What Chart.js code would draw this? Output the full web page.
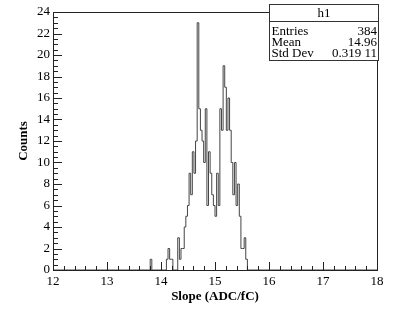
<!DOCTYPE html>
<html>
<head>
<meta charset="utf-8">
<script src="https://cdn.jsdelivr.net/npm/chart.js@4.4.1/dist/chart.umd.min.js"></script>
<style>
html,body{margin:0;padding:0;background:#fff;}
canvas{display:block;}
</style>
</head>
<body>
<canvas id="c" width="405" height="316"></canvas>
<script>
// ---- data ----
const histName = "h1";
const xTitle = "Slope (ADC/fC)";
const yTitle = "Counts";
const axisMin = 12, axisMax = 18;
const binWidth = 0.03;
const firstBinLow = 13.80;
const counts = [
  1, 0, 0, 0, 0, 0, 0, 0, 0, 0,
  1, 2, 1, 1, 0, 0, 0, 3, 1, 2,
  2, 4, 5, 6, 9, 7, 11, 9, 12, 23,
  15, 13, 12, 10, 15, 6, 11, 9, 7, 6,
  5, 9, 6, 15, 13, 19, 17, 13, 16, 13,
  10, 7, 10, 6, 8, 5, 2, 2, 3, 1
];
const statLabels = ["Entries", "Mean", "Std Dev"];
const statValues = ["384", "14.96", "0.319 11"];
const yTicksMax = 24;

// build step points from bin low edges
const pts = [{x: axisMin, y: 0}];
counts.forEach((c, i) => pts.push({x: +(firstBinLow + i * binWidth).toFixed(4), y: c}));
const lastEdge = +(firstBinLow + counts.length * binWidth).toFixed(4);
pts.push({x: lastEdge, y: 0});
pts.push({x: axisMax, y: 0});

const serif = "'Liberation Serif','DejaVu Serif',serif";

const rootStyle = {
  id: 'rootStyle',
  afterDraw(chart) {
    const ctx = chart.ctx;
    const a = chart.chartArea;
    const xs = chart.scales.x, ys = chart.scales.y;
    ctx.save();
    ctx.strokeStyle = '#222';
    ctx.lineWidth = 1;
    ctx.strokeRect(Math.round(a.left) + 0.5, Math.round(a.top) + 0.5,
      Math.round(a.right - a.left), Math.round(a.bottom - a.top));
    ctx.beginPath();
    for (let i = 0; i <= (axisMax - axisMin) * 5; i++) {
      const v = axisMin + i * 0.2;
      const px = Math.round(xs.getPixelForValue(v)) + 0.5;
      const len = (i % 5 === 0) ? 8 : 4;
      ctx.moveTo(px, a.bottom);
      ctx.lineTo(px, a.bottom - len);
    }
    for (let i = 0; i <= yTicksMax * 2; i++) {
      const v = i * 0.5;
      const py = Math.round(ys.getPixelForValue(v)) + 0.5;
      const len = (i % 4 === 0) ? 9 : 5;
      ctx.moveTo(a.left, py);
      ctx.lineTo(a.left + len, py);
    }
    ctx.stroke();

    // stats box
    const bx = 269.5, by = 4.5, bw = 109, bh = 56;
    ctx.fillStyle = '#fff';
    ctx.fillRect(bx, by, bw, bh);
    ctx.strokeStyle = '#333';
    ctx.strokeRect(bx, by, bw, bh);
    ctx.beginPath();
    ctx.moveTo(bx, 21.5);
    ctx.lineTo(bx + bw, 21.5);
    ctx.stroke();
    ctx.fillStyle = '#000';
    ctx.font = '13px ' + serif;
    ctx.textBaseline = 'middle';
    ctx.textAlign = 'center';
    ctx.fillText(histName, bx + bw / 2, 13.5);
    const rows = [31.5, 42.5, 53.5];
    statLabels.forEach((l, i) => {
      ctx.textAlign = 'left';
      ctx.fillText(l, 271.5, rows[i]);
      ctx.textAlign = 'right';
      ctx.fillText(statValues[i], 377, rows[i]);
    });
    ctx.restore();
  }
};

new Chart(document.getElementById('c'), {
  type: 'line',
  data: {
    datasets: [{
      data: pts,
      stepped: 'before',
      borderColor: '#444',
      borderWidth: 1,
      pointRadius: 0,
      fill: false,
      tension: 0
    }]
  },
  options: {
    responsive: false,
    animation: false,
    events: [],
    layout: {padding: {top: 12, right: 28, left: 0, bottom: 0}},
    plugins: {legend: {display: false}, tooltip: {enabled: false}},
    scales: {
      x: {
        type: 'linear',
        min: axisMin, max: axisMax,
        grid: {display: false, drawTicks: false},
        border: {display: false},
        ticks: {stepSize: 1, padding: 4, color: '#000', font: {family: serif, size: 13}, maxRotation: 0},
        title: {display: true, text: xTitle, color: '#000', font: {family: serif, size: 13, weight: 'bold'}, padding: {top: 0, bottom: 12}},
        afterFit(s) { s.height = 46; }
      },
      y: {
        min: 0, max: yTicksMax,
        grid: {display: false, drawTicks: false},
        border: {display: false},
        ticks: {stepSize: 2, padding: 3, color: '#000', font: {family: serif, size: 13}},
        title: {display: true, text: yTitle, color: '#000', font: {family: serif, size: 13, weight: 'bold'}, padding: {top: 16, bottom: 0}},
        afterFit(s) { s.width = 53; }
      }
    }
  },
  plugins: [rootStyle]
});
</script>
</body>
</html>
